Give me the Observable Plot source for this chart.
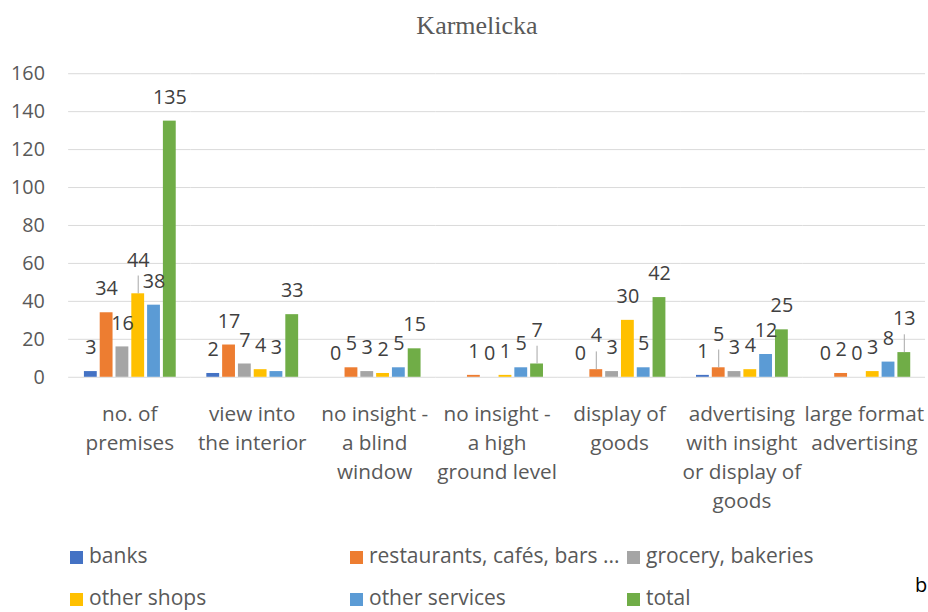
<!DOCTYPE html>
<html>
<head>
<meta charset="utf-8">
<script src="https://cdn.jsdelivr.net/npm/d3@7"></script>
<script src="https://cdn.jsdelivr.net/npm/@observablehq/plot@0.6"></script>
<style>
  html, body { margin: 0; padding: 0; background: #fff; overflow: hidden; }
  #root { position: relative; width: 928px; height: 612px; overflow: hidden; }
  #title { position: absolute; left: 0; width: 954px; top: 13px; text-align: center;
    font-family: "Liberation Serif", serif; font-size: 26px; line-height: 26px; color: #595959; }
  #chart { position: absolute; left: 0; top: 50px; }
  .leg { position: absolute; display: flex; align-items: center; height: 20px; white-space: nowrap;
    font-family: "Open Sans", sans-serif; font-size: 21px; line-height: 20px; color: #595959; }
  .sw { width: 13px; height: 13px; margin-right: 6px; flex: none; }
  .leg span.t { position: relative; top: -2px; line-height: 20px; }
  #tag { position: absolute; left: 915px; top: 575px; font-family: "Open Sans", sans-serif; font-size: 20px; color: #000; line-height: 20px; }
</style>
</head>
<body>
<div id="root">
  <div id="title">Karmelicka</div>
  <div id="chart"></div>
  <div id="legend"></div>
  <div id="tag">b</div>
</div>
<script>
// ---- data ----
const categories = [
  "no. of\npremises",
  "view into\nthe interior",
  "no insight -\na blind\nwindow",
  "no insight -\na high\nground level",
  "display of\ngoods",
  "advertising\nwith insight\nor display of\ngoods",
  "large format\nadvertising"
];
const seriesNames = ["banks", "restaurants, cafés, bars ...", "grocery, bakeries", "other shops", "other services", "total"];
const banks         = [3, 2, 0, null, 0, 1, 0];
const restaurants   = [34, 17, 5, 1, 4, 5, 2];
const grocery       = [16, 7, 3, 0, 3, 3, 0];
const otherShops    = [44, 4, 2, 1, 30, 4, 3];
const otherServices = [38, 3, 5, 5, 5, 12, 8];
const total         = [135, 33, 15, 7, 42, 25, 13];
const yTicks = [0, 20, 40, 60, 80, 100, 120, 140, 160];
// labels that were pulled up with a leader line in the original
const leaderLabels = [
  [0, "other shops"], [3, "total"], [4, "restaurants, cafés, bars ..."],
  [5, "restaurants, cafés, bars ..."], [6, "total"]
];
// ---- styles ----
const colors = ["#4472C4", "#ED7D31", "#A5A5A5", "#FFC000", "#5B9BD5", "#70AD47"];

const seriesValues = [banks, restaurants, grocery, otherShops, otherServices, total];
const rows = [];
categories.forEach((c, ci) => {
  seriesNames.forEach((s, si) => {
    const v = seriesValues[si][ci];
    if (v == null) return;
    const lifted = leaderLabels.some(([lc, ls]) => lc === ci && ls === s);
    rows.push({category: c, series: s, value: v, lifted});
  });
});

const W = 940, H = 470, MT = 23.5, MB = 139, ML = 69, MR = 3;
const pxPerUnit = (H - MT - MB) / 160;
const normal = rows.filter(d => !d.lifted);
const lifted = rows.filter(d => d.lifted);

const plot = Plot.plot({
  width: W, height: H,
  marginTop: MT, marginBottom: MB, marginLeft: ML, marginRight: MR,
  style: {fontFamily: "Open Sans, sans-serif", fontSize: "20px", color: "#595959", background: "transparent"},
  fx: {domain: categories, padding: 0, label: null},
  x: {domain: seriesNames, axis: null, paddingInner: 0.21, paddingOuter: 0.86},
  y: {domain: [0, 160], label: null},
  color: {domain: seriesNames, range: colors},
  marks: [
    Plot.gridY(yTicks, {stroke: "#d9d9d9", strokeOpacity: 1, strokeWidth: 1}),
    Plot.axisY(yTicks, {tickSize: 0, tickPadding: 24, label: null, fill: "#595959", fontSize: 20}),
    Plot.axisFx({anchor: "bottom", tickSize: 0, tickPadding: 24, label: null, lineHeight: 1.39, fill: "#595959", fontSize: 21}),
    Plot.barY(rows, {fx: "category", x: "series", y: "value", fill: "series"}),
    Plot.ruleX(lifted, {fx: "category", x: "series", y1: "value", y2: d => d.value + 18 / pxPerUnit, stroke: "#a6a6a6", strokeWidth: 1}),
    Plot.text(normal, {fx: "category", x: "series", y: "value", text: d => String(d.value), dy: -24, fill: "#404040", fontSize: 20}),
    Plot.text(lifted, {fx: "category", x: "series", y: "value", text: d => String(d.value), dy: -34, fill: "#404040", fontSize: 20})
  ]
});
document.getElementById("chart").appendChild(plot);

// legend
const legend = document.getElementById("legend");
const colX = [70, 350, 627];
const rowY = [547, 589];
seriesNames.forEach((s, i) => {
  const item = document.createElement("div");
  item.className = "leg";
  item.style.left = colX[i % 3] + "px";
  item.style.top = rowY[Math.floor(i / 3)] + "px";
  const sw = document.createElement("div");
  sw.className = "sw";
  sw.style.background = colors[i];
  const t = document.createElement("span");
  t.className = "t";
  t.textContent = s;
  item.appendChild(sw);
  item.appendChild(t);
  legend.appendChild(item);
});
</script>
</body>
</html>
